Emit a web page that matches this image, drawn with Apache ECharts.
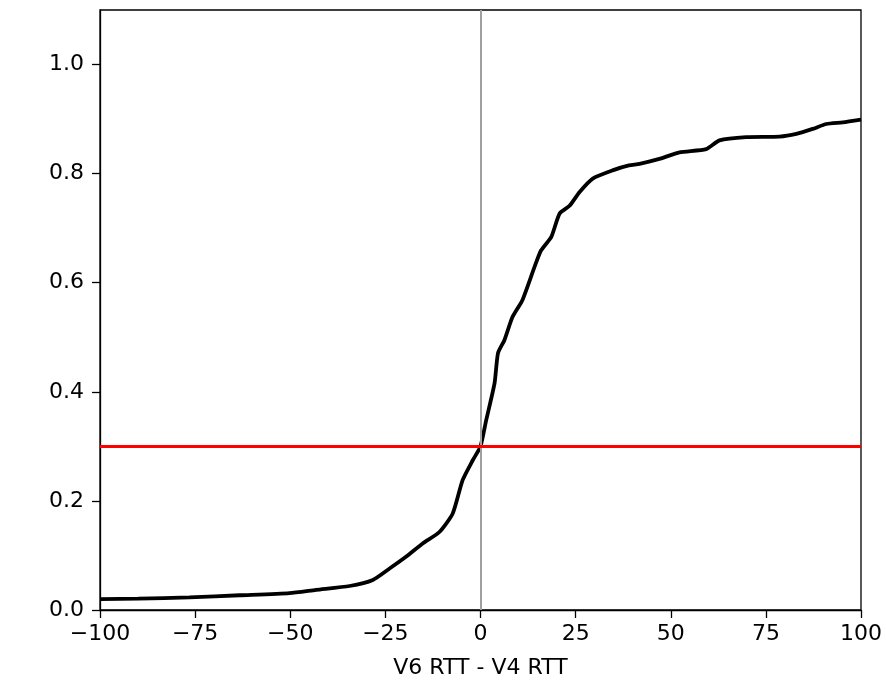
<!DOCTYPE html>
<html><head><meta charset="utf-8">
<script src="https://cdn.jsdelivr.net/npm/echarts@6/dist/echarts.min.js"></script>
<style>html,body{margin:0;padding:0;background:#fff}#c{width:886px;height:682px}</style>
</head><body><div id="c"></div>
<script>
const rttDiff = [-100,-90,-76.5,-63.3,-50.2,-43.2,-34.4,-28.3,-23.9,-19.5,-15.2,-10.8,-7.3,-4.7,-2,0,1.5,3.7,4.6,6.3,8.4,11,14.2,15.9,18.6,20.8,23.4,26,29.5,34.7,39,41.8,47,52.3,59.3,62.8,69.8,78.6,83,87.3,90.9,95.2,100];
const cdf = [0.020,0.021,0.023,0.027,0.031,0.037,0.044,0.055,0.076,0.098,0.122,0.143,0.177,0.238,0.275,0.300,0.348,0.416,0.471,0.495,0.537,0.568,0.629,0.659,0.684,0.727,0.741,0.766,0.791,0.806,0.815,0.818,0.827,0.839,0.845,0.861,0.867,0.868,0.873,0.882,0.891,0.894,0.899];
const refLevel = 0.302;
const xTicks = [-100,-75,-50,-25,0,25,50,75,100];
const xLabel = 'V6 RTT - V4 RTT';

const font = 'DejaVu Sans';
const chart = echarts.init(document.getElementById('c'));
chart.setOption({
  animation:false,
  grid:{left:100,right:25,top:10,bottom:72,containLabel:false,outerBoundsMode:'none',show:true,borderColor:'#000',borderWidth:1.3,backgroundColor:'transparent'},
  xAxis:{type:'value',min:xTicks[0],max:xTicks[xTicks.length-1],interval:25,
    name:xLabel,nameLocation:'middle',nameGap:47,
    nameTextStyle:{fontFamily:font,fontSize:22,color:'#000'},
    axisLine:{show:true,onZero:false,lineStyle:{color:'#000',width:1.3}},
    axisTick:{show:true,length:8,inside:false,lineStyle:{color:'#000',width:1.3}},
    axisLabel:{fontFamily:font,fontSize:22,color:'#000',margin:13,formatter:v=>String(v).replace('-','\u2212')},
    splitLine:{show:false}},
  yAxis:{type:'value',min:0,max:1.1,interval:0.2,
    axisLine:{show:true,onZero:false,lineStyle:{color:'#000',width:1.3}},
    axisTick:{show:true,length:8,lineStyle:{color:'#000',width:1.3}},
    axisLabel:{fontFamily:font,fontSize:22,color:'#000',margin:16,showMaxLabel:false,formatter:v=>v.toFixed(1)},
    splitLine:{show:false}},
  series:[{type:'line',data:rttDiff.map((x,i)=>[x,cdf[i]]),showSymbol:false,smooth:0.2,
    lineStyle:{color:'#000',width:3.8},
    markLine:{silent:true,symbol:'none',label:{show:false},
      data:[
        {xAxis:0,lineStyle:{color:'#a0a0a0',width:2,type:'solid'}},
        {yAxis:refLevel,lineStyle:{color:'#ff0000',width:3,type:'solid'}}
      ]}
  }]
});
</script></body></html>
